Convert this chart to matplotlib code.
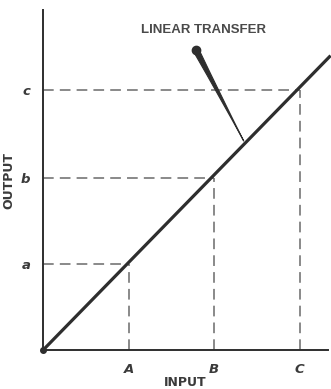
import matplotlib.pyplot as plt

# input levels and output levels
inputs = [1.0, 2.0, 3.0]
outputs = [1.0, 2.0, 3.03]
in_labels = ['A', 'B', 'C']
out_labels = ['a', 'b', 'c']
line_x = [0.0, 3.36]
line_y = [0.0, 3.43]
pointer_at = 2.36

ink = '#2e2e2e'
dash = '#6a6a6a'

fig = plt.figure(figsize=(3.31, 3.89), dpi=100)
ax = fig.add_axes([0.13, 0.10, 0.861, 0.874])
ax.set_xlim(0, 3.33)
ax.set_ylim(0, 3.96)

# dashed guides from the axes to the transfer line
for x, y in zip(inputs, outputs):
    ax.plot([x, x], [0, y], color=dash, lw=1.1, dashes=(7, 4))
    ax.plot([0, x], [y, y], color=dash, lw=1.1, dashes=(7, 4))

# the transfer line itself
ax.plot(line_x, line_y, color=ink, lw=2.3, clip_on=False, solid_capstyle='butt')
ax.plot([0], [0], 'o', color=ink, ms=4, clip_on=False)

# pointer to the line
ax.annotate('', xy=(pointer_at, pointer_at * 1.02), xytext=(1.79, 3.49),
            arrowprops=dict(arrowstyle='wedge,tail_width=0.4,shrink_factor=0.4',
                            color=ink, lw=0.8))
ax.plot([1.79], [3.49], 'o', color=ink, ms=6)
ax.text(1.87, 3.73, 'LINEAR TRANSFER', ha='center', va='center',
        fontsize=9.5, fontweight='bold', color='#4a4a4a', family='Liberation Sans')

for s in ['top', 'right']:
    ax.spines[s].set_visible(False)
for s in ['left', 'bottom']:
    ax.spines[s].set_color(ink)
    ax.spines[s].set_linewidth(1.4)

ax.set_xticks(inputs)
ax.set_xticklabels(in_labels, fontsize=9.5, style='italic', fontweight='bold',
                   color='#3a3a3a')
ax.set_yticks(outputs)
ax.set_yticklabels(out_labels, fontsize=9.5, style='italic', fontweight='bold',
                   color='#3a3a3a')
ax.tick_params(length=0, pad=9)

ax.set_xlabel('INPUT', fontsize=9, fontweight='bold', color='#3a3a3a', labelpad=0)
ax.set_ylabel('OUTPUT', fontsize=9, fontweight='bold', color='#3a3a3a', labelpad=4)

fig.savefig('out.png', dpi=100)
